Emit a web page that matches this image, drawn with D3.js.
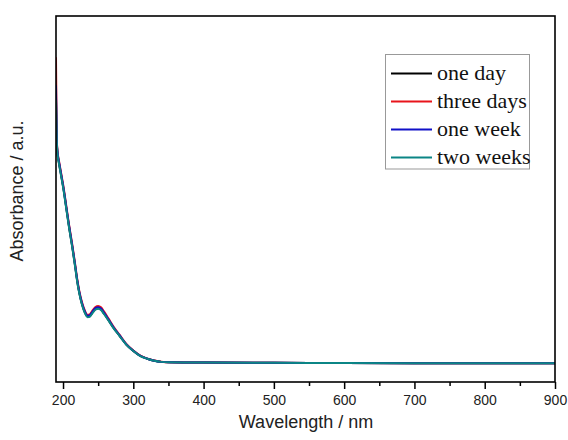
<!DOCTYPE html>
<html>
<head>
<meta charset="utf-8">
<script src="https://cdn.jsdelivr.net/npm/d3@7"></script>
<style>
  body { margin: 0; background: #fff; }
</style>
</head>
<body>
<div id="chart"></div>
<script>
// wavelengths (nm)
const wavelengths = [190, 191, 192, 194, 196, 198, 200, 203, 205, 208, 210, 213, 216, 218, 220, 223, 227, 231, 235, 238,
                     242, 246, 250, 254, 258, 265, 272, 280, 290, 300, 310, 320, 330, 340, 350, 400, 500, 600, 700, 800, 900];

// absorbance for each sample
const oneDay = [1.55, 1.322, 1.256, 1.202, 1.158, 1.114, 1.070, 0.994, 0.940, 0.862, 0.813, 0.742, 0.665, 0.611, 0.556, 0.490, 0.425, 0.381, 0.357, 0.359,
                0.380, 0.398, 0.403, 0.396, 0.376, 0.336, 0.295, 0.255, 0.205, 0.170, 0.143, 0.127, 0.116, 0.110, 0.108, 0.106, 0.105, 0.104, 0.103, 0.103, 0.103];
const threeDays = [1.775, 1.335, 1.268, 1.214, 1.170, 1.126, 1.082, 1.006, 0.952, 0.874, 0.825, 0.754, 0.677, 0.623, 0.567, 0.500, 0.435, 0.391, 0.367, 0.370,
                   0.391, 0.410, 0.415, 0.408, 0.387, 0.345, 0.302, 0.260, 0.208, 0.172, 0.144, 0.128, 0.117, 0.111, 0.108, 0.106, 0.105, 0.104, 0.103, 0.103, 0.103];
const oneWeek = [1.622, 1.328, 1.262, 1.208, 1.164, 1.120, 1.076, 1.000, 0.946, 0.868, 0.819, 0.748, 0.671, 0.617, 0.562, 0.495, 0.430, 0.386, 0.362, 0.364,
                 0.385, 0.404, 0.409, 0.402, 0.381, 0.340, 0.298, 0.257, 0.206, 0.171, 0.143, 0.127, 0.116, 0.110, 0.108, 0.106, 0.105, 0.104, 0.103, 0.103, 0.103];
const twoWeeks = [1.54, 1.318, 1.252, 1.198, 1.154, 1.110, 1.066, 0.990, 0.936, 0.858, 0.809, 0.738, 0.662, 0.608, 0.553, 0.487, 0.422, 0.378, 0.354, 0.356,
                  0.377, 0.395, 0.400, 0.393, 0.373, 0.334, 0.293, 0.254, 0.204, 0.169, 0.142, 0.127, 0.116, 0.110, 0.108, 0.106, 0.105, 0.104, 0.103, 0.103, 0.103];

const seriesNames = ["one day", "three days", "one week", "two weeks"];
const seriesColors = ["#000000", "#e8141b", "#1010c8", "#0b8585"];
const xTicks = [200, 300, 400, 500, 600, 700, 800, 900];

const width = 568;
const height = 440;
const margin = {left: 56, right: 13, top: 16, bottom: 58};

const svg = d3.select("#chart")
    .append("svg")
    .attr("width", width)
    .attr("height", height);

const x = d3.scaleLinear()
    .domain([190, 900])
    .range([margin.left, width - margin.right]);

const y = d3.scaleLinear()
    .domain([0, 2])
    .range([height - margin.bottom, margin.top]);

const allSeries = [oneDay, threeDays, oneWeek, twoWeeks];

const line = d3.line()
    .x((d, i) => x(wavelengths[i]))
    .y(d => y(d))
    .curve(d3.curveMonotoneX);

svg.append("clipPath").attr("id", "clip")
    .append("rect")
    .attr("x", margin.left).attr("y", margin.top)
    .attr("width", width - margin.left - margin.right)
    .attr("height", height - margin.top - margin.bottom);

// curves
allSeries.forEach((s, k) => {
    svg.append("path")
        .datum(s)
        .attr("clip-path", "url(#clip)")
        .attr("fill", "none")
        .attr("stroke", seriesColors[k])
        .attr("stroke-width", 2)
        .attr("d", line);
});

// bottom axis, major and minor ticks
const xAxis = svg.append("g")
    .attr("transform", "translate(0," + (height - margin.bottom) + ")")
    .call(d3.axisBottom(x).tickValues(xTicks).tickSize(7).tickPadding(6).tickFormat(d3.format("d")));
xAxis.select(".domain").remove();
xAxis.selectAll("line").attr("stroke", "#000").attr("stroke-width", 1.5);
xAxis.selectAll("text")
    .attr("font-family", "Liberation Sans, Arial, sans-serif")
    .attr("font-size", 14)
    .attr("fill", "#222");

const minor = svg.append("g")
    .attr("transform", "translate(0," + (height - margin.bottom) + ")")
    .call(d3.axisBottom(x).tickValues(d3.range(250, 900, 100)).tickSize(4).tickFormat(""));
minor.select(".domain").remove();
minor.selectAll("line").attr("stroke", "#000").attr("stroke-width", 1.5);

// frame
svg.append("rect")
    .attr("x", margin.left).attr("y", margin.top)
    .attr("width", width - margin.left - margin.right)
    .attr("height", height - margin.top - margin.bottom)
    .attr("fill", "none")
    .attr("stroke", "#000")
    .attr("stroke-width", 1.6);

// axis titles
svg.append("text")
    .attr("x", 306).attr("y", 428)
    .attr("text-anchor", "middle")
    .attr("font-family", "Liberation Sans, Arial, sans-serif")
    .attr("font-size", 18)
    .attr("fill", "#222")
    .text("Wavelength / nm");

svg.append("text")
    .attr("transform", "translate(23,191) rotate(-90)")
    .attr("text-anchor", "middle")
    .attr("font-family", "Liberation Sans, Arial, sans-serif")
    .attr("font-size", 18)
    .attr("fill", "#222")
    .text("Absorbance / a.u.");

// legend
const legend = svg.append("g");
legend.append("rect")
    .attr("x", 385.5).attr("y", 54.5)
    .attr("width", 144).attr("height", 114.5)
    .attr("fill", "#fff")
    .attr("stroke", "#999")
    .attr("stroke-width", 1);

seriesNames.forEach((name, k) => {
    const ly = 73.5 + k * 28;
    legend.append("line")
        .attr("x1", 391).attr("x2", 432)
        .attr("y1", ly).attr("y2", ly)
        .attr("stroke", seriesColors[k])
        .attr("stroke-width", 2);
    legend.append("text")
        .attr("x", 437).attr("y", ly + 6)
        .attr("font-family", "Liberation Serif, Times New Roman, serif")
        .attr("font-size", 22)
        .attr("fill", "#111")
        .text(name);
});
</script>
</body>
</html>
